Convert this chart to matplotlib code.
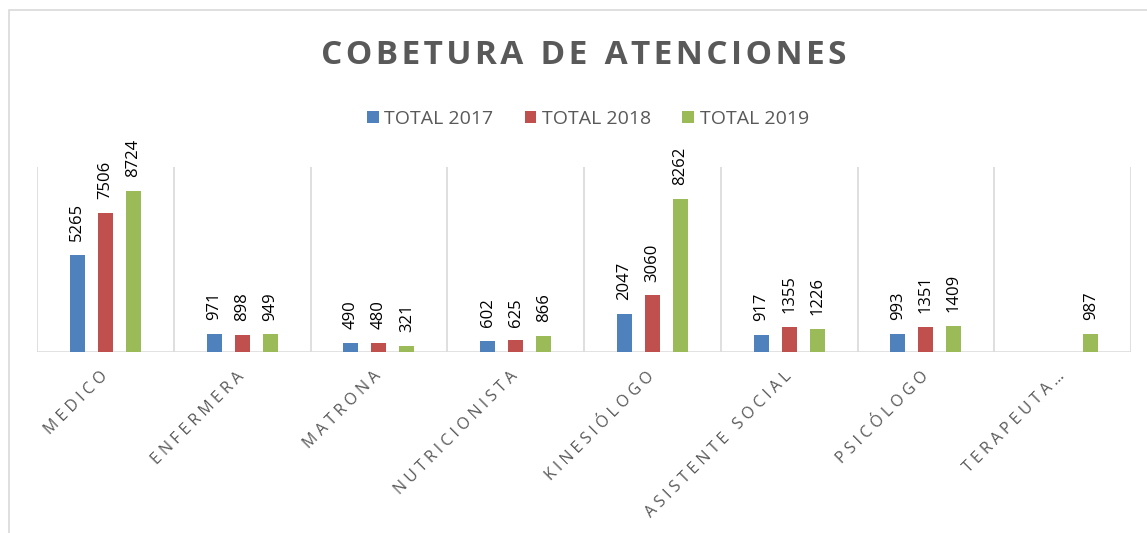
import numpy as np
import matplotlib
matplotlib.use("Agg")
import matplotlib.pyplot as plt
from matplotlib.patches import Rectangle

# DATA
categorias = ['MEDICO', 'ENFERMERA', 'MATRONA', 'NUTRICIONISTA', 'KINESIÓLOGO',
              'ASISTENTE SOCIAL', 'PSICÓLOGO', 'TERAPEUTA…']
total_2017 = [5265, 971, 490, 602, 2047, 917, 993, None]
total_2018 = [7506, 898, 480, 625, 3060, 1355, 1351, None]
total_2019 = [8724, 949, 321, 866, 8262, 1226, 1409, 987]
series = ['TOTAL 2017', 'TOTAL 2018', 'TOTAL 2019']
colores = ['#4F81BD', '#C0504D', '#9BBB59']

plt.rcParams['font.family'] = ['Open Sans', 'DejaVu Sans']

def espaciar(txt, sep=' ', sep_palabra=None):
    # letter spacing like the excel chart
    if sep_palabra is None:
        sep_palabra = sep * 3
    palabras = txt.split(' ')
    return sep_palabra.join(sep.join(p) for p in palabras)

fig = plt.figure(figsize=(11.47, 5.33), dpi=100)
ax = fig.add_axes([37/1147, 1-352/533, 1094/1147, 185/533])

x = np.arange(len(categorias))
desp = 0.205
ancho = 0.11
for k, (vals, nombre, col) in enumerate(zip([total_2017, total_2018, total_2019], series, colores)):
    v = np.array([np.nan if a is None else a for a in vals], dtype=float)
    xs = x + (k - 1) * desp
    ax.bar(xs, v, width=ancho, color=col, label=nombre, zorder=3)
    for xi, vi in zip(xs, v):
        if not np.isnan(vi):
            ax.annotate(f'{int(vi)}', (xi, vi), xytext=(0, 10), textcoords='offset points',
                        rotation=90, ha='center', va='bottom', fontsize=12, color='black')

ax.set_xlim(-0.5, len(categorias) - 0.5)
ax.set_ylim(0, 10000)
for b in np.arange(-0.5, len(categorias)):
    ax.axvline(b, color='#D9D9D9', lw=1.2, zorder=1)
ax.axhline(0, color='#D9D9D9', lw=1.8, zorder=2)
for s in ax.spines.values():
    s.set_visible(False)
ax.set_yticks([])
ax.set_xticks(x)
ax.set_xticklabels([espaciar(c) for c in categorias], rotation=45, ha='right', va='center',
                   rotation_mode='anchor', fontsize=11.5, color='#595959')
ax.tick_params(axis='x', length=0, pad=16)

fig.text(0.509, 1-56/533, espaciar('COBETURA DE ATENCIONES', '\u200a', '  '), ha='center', va='center',
         fontsize=24, fontweight='bold', color='#595959')

fig.legend(loc='center', bbox_to_anchor=(588/1147, 1-119/533), ncol=3, frameon=False,
           fontsize=14, handlelength=0.6, handleheight=0.6, handletextpad=0.3,
           columnspacing=1.6, labelcolor='#595959')

fig.patches.append(Rectangle((9/1147, -0.1), 1.2, (533-10)/533 + 0.1, transform=fig.transFigure,
                             fill=False, edgecolor='#D9D9D9', lw=1.2))

fig.savefig('out.png', dpi=100)
